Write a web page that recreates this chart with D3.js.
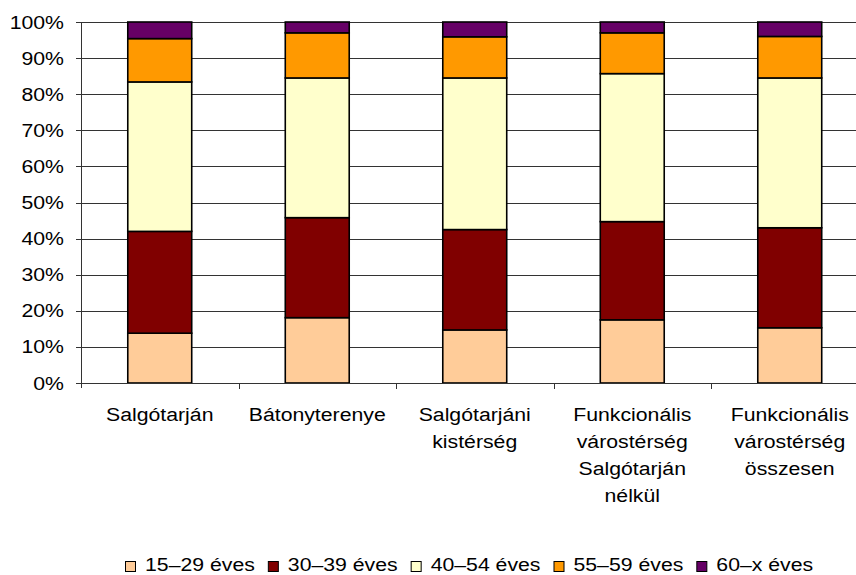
<!DOCTYPE html>
<html>
<head>
<meta charset="utf-8">
<script src="https://cdn.jsdelivr.net/npm/d3@7"></script>
<style>
    body { margin: 0; background: #fff; }
    text { font-family: "Liberation Sans", Arial, sans-serif; fill: #000; }
</style>
</head>
<body>
<div id="chart"></div>
<script>
const categories = [
    ["Salgótarján"],
    ["Bátonyterenye"],
    ["Salgótarjáni", "kistérség"],
    ["Funkcionális", "várostérség", "Salgótarján", "nélkül"],
    ["Funkcionális", "várostérség", "összesen"]
]
const seriesNames = ["15–29 éves", "30–39 éves", "40–54 éves", "55–59 éves", "60–x éves"]
const seriesColors = ["#FFCC99", "#800000", "#FFFFCC", "#FF9900", "#660066"]

// shares in percent, one array per age group, in category order
const age15_29 = [13.8, 18.1, 14.7, 17.5, 15.3]
const age30_39 = [28.2, 27.7, 27.8, 27.2, 27.7]
const age40_54 = [41.4, 38.7, 42.0, 41.0, 41.5]
const age55_59 = [12.0, 12.5, 11.4, 11.3, 11.5]
const age60_x  = [4.6, 3.0, 4.1, 3.0, 4.0]

const yTicks = [0, 10, 20, 30, 40, 50, 60, 70, 80, 90, 100]

const width = 856
const height = 575
const stretch = 1.18   // text in the picture is wider than plain Arial

const svg = d3.select("#chart").append("svg")
    .attr("width", width)
    .attr("height", height)

// widen a text horizontally, keeping its anchor
function widen(sel) {
    sel.each(function() {
        const len = this.getComputedTextLength()
        d3.select(this)
            .attr("textLength", len * stretch)
            .attr("lengthAdjust", "spacingAndGlyphs")
    })
}

const keys = categories.map(c => c.join(" "))
const rows = keys.map((k, i) => ({
    key: k,
    s0: age15_29[i], s1: age30_39[i], s2: age40_54[i], s3: age55_59[i], s4: age60_x[i]
}))
const stack = d3.stack().keys(["s0", "s1", "s2", "s3", "s4"])(rows)

const x = d3.scaleBand()
    .domain(keys)
    .range([81, 868.5])
    .paddingInner(0.594)
    .paddingOuter(0.297)

const y = d3.scaleLinear()
    .domain([0, 100])
    .range([383, 22])

const step = x.step()

// grid lines
svg.append("g")
    .selectAll("line")
    .data(yTicks.filter(d => d > 0))
    .join("line")
    .attr("x1", 81)
    .attr("x2", width)
    .attr("y1", d => Math.round(y(d)) + 0.5)
    .attr("y2", d => Math.round(y(d)) + 0.5)
    .attr("stroke", "#333")
    .attr("stroke-width", 1)

// stacked bars
svg.append("g")
    .selectAll("g")
    .data(stack)
    .join("g")
        .attr("fill", (d, i) => seriesColors[i])
        .selectAll("rect")
        .data(d => d)
        .join("rect")
            .attr("x", d => x(d.data.key))
            .attr("width", x.bandwidth())
            .attr("y", d => y(d[1]))
            .attr("height", d => y(d[0]) - y(d[1]))
            .attr("stroke", "#000")
            .attr("stroke-width", 1.6)

// y axis
const yAxis = svg.append("g")
yAxis.append("line")
    .attr("x1", 81.5).attr("x2", 81.5)
    .attr("y1", y(100)).attr("y2", y(0) + 5)
    .attr("stroke", "#333")
yAxis.selectAll(".tick")
    .data(yTicks)
    .join("line")
    .attr("x1", 76).attr("x2", 81)
    .attr("y1", d => Math.round(y(d)) + 0.5)
    .attr("y2", d => Math.round(y(d)) + 0.5)
    .attr("stroke", "#333")
yAxis.selectAll("text")
    .data(yTicks)
    .join("text")
    .attr("x", 64)
    .attr("y", d => y(d) + 6.5)
    .attr("text-anchor", "end")
    .attr("font-size", 18)
    .text(d => d + "%")
    .call(widen)

// x axis
const xAxis = svg.append("g")
xAxis.append("line")
    .attr("x1", 81).attr("x2", width)
    .attr("y1", 383.5).attr("y2", 383.5)
    .attr("stroke", "#333")
xAxis.selectAll("line.tick")
    .data(keys.slice(1))
    .join("line")
    .attr("class", "tick")
    .attr("x1", d => Math.round(x(d) - step * x.paddingInner() / 2) + 0.5)
    .attr("x2", d => Math.round(x(d) - step * x.paddingInner() / 2) + 0.5)
    .attr("y1", 383).attr("y2", 389)
    .attr("stroke", "#333")

categories.forEach((lines, i) => {
    const cx = x(keys[i]) + x.bandwidth() / 2
    xAxis.append("g")
        .selectAll("text")
        .data(lines)
        .join("text")
        .attr("x", cx)
        .attr("y", (d, j) => 421 + j * 27)
        .attr("text-anchor", "middle")
        .attr("font-size", 18)
        .text(d => d)
        .call(widen)
})

// legend
const legend = svg.append("g")
let lx = 125
seriesNames.forEach((name, i) => {
    legend.append("rect")
        .attr("x", lx + 0.5).attr("y", 561.5)
        .attr("width", 10).attr("height", 10)
        .attr("fill", seriesColors[i])
        .attr("stroke", "#000")
    const t = legend.append("text")
        .attr("x", lx + 20)
        .attr("y", 571)
        .attr("font-size", 18)
        .text(name)
    const len = t.node().getComputedTextLength() * stretch
    t.attr("textLength", len).attr("lengthAdjust", "spacingAndGlyphs")
    lx += 20 + len + 13
})
</script>
</body>
</html>
